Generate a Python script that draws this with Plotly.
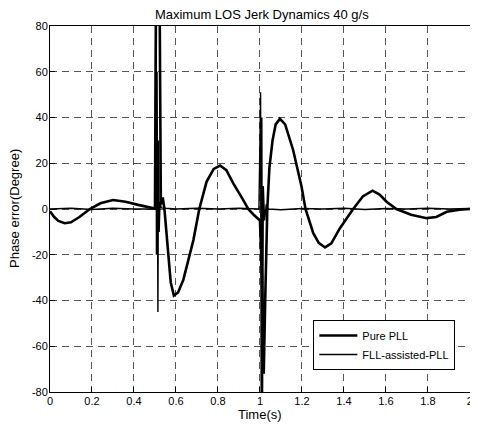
import plotly.graph_objects as go

# Pure PLL (thick line): time (s) and phase error (deg)
pure_t = [0.00, 0.02, 0.04, 0.07, 0.10, 0.14, 0.19, 0.24, 0.30, 0.36, 0.42, 0.476, 0.50,
          0.505, 0.522, 0.528, 0.537, 0.545, 0.555, 0.565, 0.575, 0.59, 0.61, 0.635, 0.66,
          0.683, 0.711, 0.746, 0.78, 0.81, 0.84, 0.873, 0.92, 0.944, 0.97, 1.00,
          1.01, 1.018, 1.025, 1.035, 1.045, 1.06, 1.075, 1.095, 1.12, 1.158, 1.198, 1.217,
          1.254, 1.28, 1.31, 1.34, 1.381, 1.444, 1.49, 1.536, 1.57, 1.603, 1.65, 1.72,
          1.794, 1.84, 1.89, 1.95, 2.00]
pure_v = [-1.0, -3.5, -5.2, -6.2, -5.8, -3.5, 0.0, 2.5, 3.9, 3.2, 1.8, 0.6, 0.2,
          95, 95, 2, 5, 0, -12, -24, -32, -37.8, -36.5, -31, -22,
          -13.6, 0, 12, 17.5, 19, 17, 11.2, 4, 0, -2.5, -5,
          -30, -72, -40, 0, 18, 30, 37, 39.4, 37, 25.8, 9.8, 0,
          -10.6, -14.8, -16.8, -15, -8.4, 0, 5.5, 8, 6.3, 3.2, 0, -2.5,
          -4, -3.5, -1.2, -0.3, 0.0]

# FLL-assisted-PLL (thin line)
fll_t = [0.00, 0.10, 0.20, 0.30, 0.40, 0.49, 0.50, 0.504, 0.507, 0.510, 0.514, 0.517,
         0.520, 0.524, 0.53, 0.55, 0.60, 0.70, 0.80, 0.90, 0.995, 1.000, 1.003, 1.006,
         1.009, 1.012, 1.016, 1.022, 1.03, 1.04, 1.10, 1.20, 1.30, 1.40, 1.50, 1.60,
         1.70, 1.80, 1.90, 2.00]
fll_v = [0.0, 0.3, -0.2, 0.3, 0.0, 0.2, 0.0, 95, -20, 60, -45, 30,
         -10, 3, 0.5, 0.3, 0.0, 0.3, 0.0, 0.3, 0.0, 30, 51, -95,
         40, -95, 10, -5, 2, 0.0, -0.3, 0.2, 0.0, 0.3, -0.2, 0.2,
         0.0, 0.3, 0.0, 0.2]

x_ticks = [0, 0.2, 0.4, 0.6, 0.8, 1, 1.2, 1.4, 1.6, 1.8, 2]
x_labels = ["0", "0.2", "0.4", "0.6", "0.8", "1", "1.2", "1.4", "1.6", "1.8", "2"]
y_ticks = [-80, -60, -40, -20, 0, 20, 40, 60, 80]
y_labels = ["-80", "-60", "-40", "-20", "0", "20", "40", "60", "80"]

font = "Liberation Sans, Arial, sans-serif"

fig = go.Figure()
fig.add_trace(go.Scatter(x=pure_t, y=pure_v, mode="lines", name="Pure PLL",
                         line=dict(color="black", width=2.6)))
fig.add_trace(go.Scatter(x=fll_t, y=fll_v, mode="lines", name="FLL-assisted-PLL",
                         line=dict(color="black", width=1.4)))

axis_common = dict(showline=True, linecolor="black", linewidth=1, mirror=True,
                   ticks="inside", ticklen=5, tickcolor="black", automargin=False,
                   showgrid=True, gridcolor="#555555", gridwidth=1, griddash="7px,5px",
                   zeroline=False, tickfont=dict(family=font, size=11, color="black"))

# The page body adds an 8px offset, so the figure is sized 470x416 with margins
# chosen to put the plot area at x 50..470, y 26..392 of the window.
fig.update_layout(
    width=470, height=416,
    margin=dict(l=42, r=8, t=18, b=32),
    paper_bgcolor="white", plot_bgcolor="white",
    title=dict(text="Maximum LOS Jerk Dynamics 40 g/s", x=0.540, xanchor="center",
               y=0.984, yanchor="middle",
               font=dict(family=font, size=13, color="black")),
    xaxis=dict(range=[0, 2.0005], tickvals=x_ticks, ticktext=x_labels,
               ticklabelstandoff=-1, **axis_common),
    yaxis=dict(range=[-80, 80], tickvals=y_ticks, ticktext=y_labels,
               ticklabelstandoff=-1, **axis_common),
    legend=dict(x=0.627, y=0.06, xanchor="left", yanchor="bottom",
                bgcolor="white", bordercolor="black", borderwidth=1,
                font=dict(family=font, size=11, color="black"),
                tracegroupgap=0, itemwidth=38),
    showlegend=True,
    annotations=[
        dict(text="Time(s)", xref="paper", yref="paper", x=0.5, y=-0.061,
             xanchor="center", yanchor="middle", showarrow=False,
             font=dict(family=font, size=13, color="black")),
        dict(text="Phase error(Degree)", xref="paper", yref="paper", x=-0.0857, y=0.5,
             xanchor="center", yanchor="middle", showarrow=False, textangle=-90,
             font=dict(family=font, size=13, color="black")),
    ],
)

fig.write_html("out.html")
